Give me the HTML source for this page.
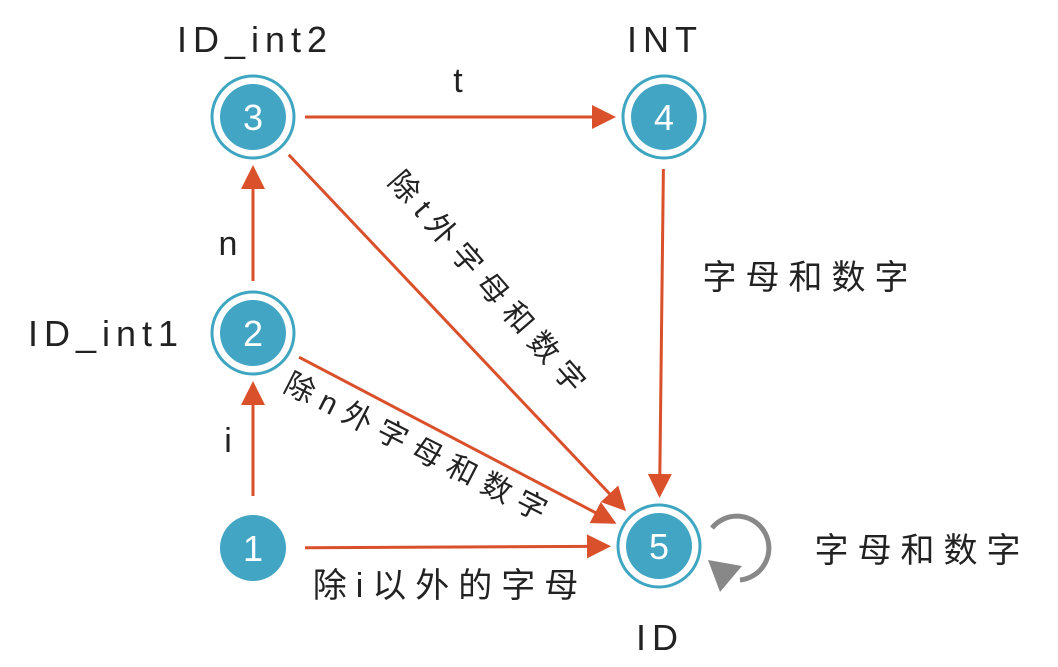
<!DOCTYPE html>
<html><head><meta charset="utf-8"><style>
html,body{margin:0;padding:0;background:#fff;}
svg{display:block;}
text{font-family:"Liberation Sans","Noto Sans CJK SC",sans-serif;fill:#222;}
.node text{fill:#fff;font-size:36px;}
.lbl{font-size:36px;letter-spacing:6px;}
.cn{font-size:34px;letter-spacing:9px;}
</style></head><body>
<svg width="1058" height="667" viewBox="0 0 1058 667">
<g id="edges" stroke="#d9502b" stroke-width="3" fill="#d9502b"></g>
<g>
<path d="M712 528 A32 32 0 1 1 740 580" fill="none" stroke="#888" stroke-width="5"/>
<polygon points="708,560 742,566 720,592" fill="#888"/>
</g>
<g id="nodes"></g>
<text x="255" y="52" class="lbl" text-anchor="middle">ID_int2</text>
<text x="665" y="52" class="lbl" text-anchor="middle">INT</text>
<text x="106" y="346" class="lbl" text-anchor="middle">ID_int1</text>
<text x="660" y="650" class="lbl" text-anchor="middle">ID</text>
<text x="458" y="92" font-size="34" text-anchor="middle">t</text>
<text x="228" y="255" font-size="34" text-anchor="middle">n</text>
<text x="228" y="452" font-size="34" text-anchor="middle">i</text>
<text x="810" y="289" class="cn" text-anchor="middle">字母和数字</text>
<text x="922" y="562" class="cn" text-anchor="middle">字母和数字</text>
<text x="450" y="597" class="cn" text-anchor="middle">除i以外的字母</text>
<text x="0" y="0" font-size="30" letter-spacing="9" text-anchor="middle" transform="translate(482,292) rotate(49)">除t外字母和数字</text>
<text x="0" y="0" font-size="30" letter-spacing="9" text-anchor="middle" transform="translate(415,458) rotate(27)">除n外字母和数字</text>
</svg>
<script>
const ns="http://www.w3.org/2000/svg";
const nodeIds=["1","2","3","4","5"];
const nodeX=[253,253,253,664,659];
const nodeY=[548,333,117,117,546];
const nodeRing=[false,true,true,true,true];
const edgeFrom=[0,1,2,2,3,1,0];
const edgeTo=[1,2,3,4,4,4,4];
const ng=document.getElementById('nodes');
nodeIds.forEach((id,i)=>{
  const g=document.createElementNS(ns,'g');g.setAttribute('class','node');
  
  
  if(nodeRing[i]){const r=document.createElementNS(ns,'circle');r.setAttribute('cx',nodeX[i]);r.setAttribute('cy',nodeY[i]);r.setAttribute('r',41);r.setAttribute('fill','#fff');r.setAttribute('stroke','#3fa6c2');r.setAttribute('stroke-width',3);g.appendChild(r);}
  const c=document.createElementNS(ns,'circle');c.setAttribute('cx',nodeX[i]);c.setAttribute('cy',nodeY[i]);c.setAttribute('r',33);c.setAttribute('fill','#42a5c3');g.appendChild(c);
  const t=document.createElementNS(ns,'text');t.setAttribute('x',nodeX[i]);t.setAttribute('y',nodeY[i]+13);t.setAttribute('text-anchor','middle');t.textContent=id;g.appendChild(t);
  ng.appendChild(g);
});
const eg=document.getElementById('edges');
edgeFrom.forEach((f,k)=>{
  const t=edgeTo[k];
  const x1=nodeX[f],y1=nodeY[f],x2=nodeX[t],y2=nodeY[t];
  const dx=x2-x1,dy=y2-y1,L=Math.hypot(dx,dy),ux=dx/L,uy=dy/L;
  const sx=x1+ux*52,sy=y1+uy*52,ex=x2-ux*48,ey=y2-uy*48;
  const g=document.createElementNS(ns,'g');
  
  
  const l=document.createElementNS(ns,'line');
  l.setAttribute('x1',sx);l.setAttribute('y1',sy);l.setAttribute('x2',ex-ux*20);l.setAttribute('y2',ey-uy*20);
  g.appendChild(l);
  const px=-uy,py=ux,bx=ex-ux*24,by=ey-uy*24;
  const p=document.createElementNS(ns,'polygon');
  p.setAttribute('points',`${ex},${ey} ${bx+px*12},${by+py*12} ${bx-px*12},${by-py*12}`);
  p.setAttribute('stroke','none');
  g.appendChild(p);
  eg.appendChild(g);
});
</script>
</body></html>
